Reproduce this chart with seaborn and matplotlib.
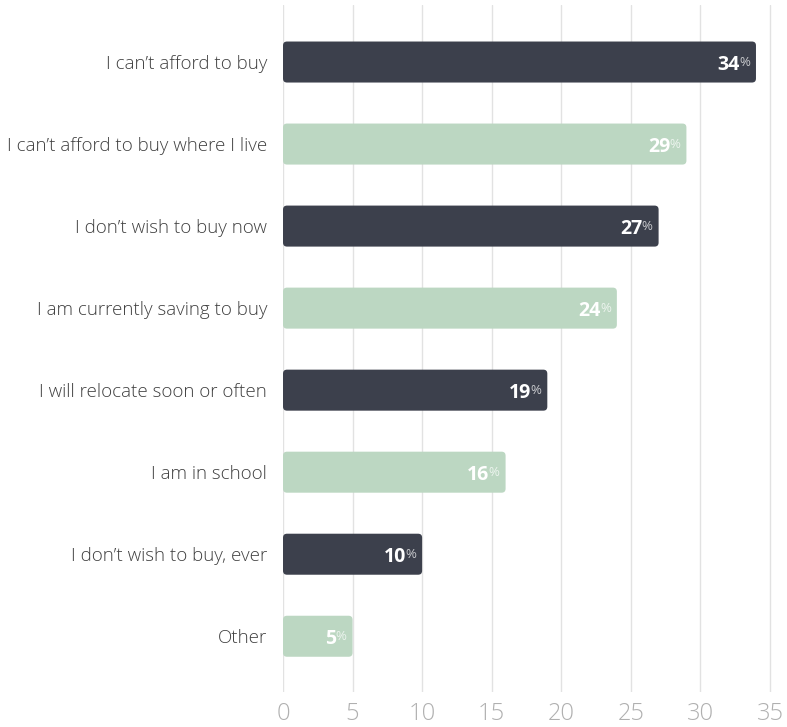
import matplotlib
matplotlib.use("Agg")
import matplotlib.pyplot as plt
from matplotlib.patches import FancyBboxPatch
import seaborn as sns
import pandas as pd

# Reasons for not buying a home (% of respondents)
reasons = [
    "I can\u2019t afford to buy",
    "I can\u2019t afford to buy where I live",
    "I don\u2019t wish to buy now",
    "I am currently saving to buy",
    "I will relocate soon or often",
    "I am in school",
    "I don\u2019t wish to buy, ever",
    "Other",
]
shares = [34, 29, 27, 24, 19, 16, 10, 5]
x_ticks = [0, 5, 10, 15, 20, 25, 30, 35]

DARK = "#393f4f"
GREEN = "#b8dbbf"
bar_colors = [DARK if i % 2 == 0 else GREEN for i in range(len(reasons))]

df = pd.DataFrame({"reason": reasons, "share": shares})

sns.set_theme(style="white")
plt.rcParams["font.family"] = ["Open Sans", "DejaVu Sans"]

fig = plt.figure(figsize=(7.87, 7.27), dpi=100)
ax = fig.add_axes([0.3596, 0.0481, 0.6404, 0.9450])

sns.barplot(data=df, x="share", y="reason", hue="reason", palette=bar_colors,
            legend=False, width=0.5, ax=ax, zorder=2)

ax.set_xlim(0, 36.23)
ax.set_ylim(len(reasons) - 1 + 0.68, -0.695)

# Swap the square bars for rounded ones
px_x = 13.92
px_y = 82.0
for patch in list(ax.patches):
    x0, y0 = patch.get_x(), patch.get_y()
    w, h = patch.get_width(), patch.get_height()
    r = 4.0 / px_x
    rounded = FancyBboxPatch((x0, y0), w, h,
                             boxstyle=f"round,pad=0,rounding_size={r}",
                             mutation_aspect=(4.0 / px_y) / r,
                             facecolor=patch.get_facecolor(), edgecolor="none",
                             zorder=2)
    patch.set_visible(False)
    ax.add_patch(rounded)

# Value labels inside the bar ends
for i, v in enumerate(shares):
    ax.annotate("%", xy=(v, i), xytext=(-6, -4), textcoords="offset pixels",
                ha="right", va="baseline", fontsize=9.5, color="white",
                alpha=0.72, zorder=3)
    ax.annotate(str(v), xy=(v, i), xytext=(-16, -8), textcoords="offset pixels",
                ha="right", va="baseline", fontsize=14, fontweight="bold",
                color="white", zorder=3)

ax.set_xticks(x_ticks)
ax.grid(axis="x", color="#e2e2e2", linewidth=1.0, zorder=0)
ax.grid(axis="y", visible=False)
ax.set_axisbelow(True)
for s in ax.spines.values():
    s.set_visible(False)

ax.tick_params(axis="y", length=0, pad=11.5, labelsize=13.5, labelcolor="#404040")
ax.tick_params(axis="x", length=0, pad=7, labelsize=17, labelcolor="#b0b0b0")
for lbl in ax.get_xticklabels():
    lbl.set_fontweight("light")
for lbl in ax.get_yticklabels():
    lbl.set_fontweight("light")
ax.set_xlabel("")
ax.set_ylabel("")

fig.savefig("out.png", dpi=100)
